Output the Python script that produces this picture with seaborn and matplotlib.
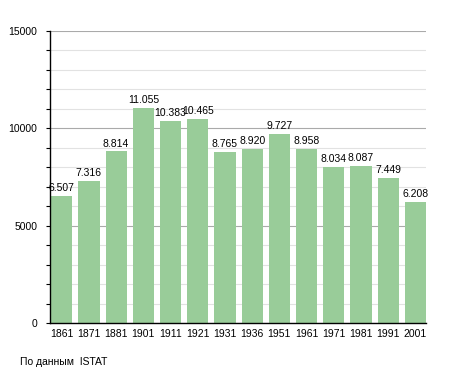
import matplotlib
matplotlib.use("Agg")
import matplotlib.pyplot as plt
import seaborn as sns
import pandas as pd
from matplotlib.ticker import MultipleLocator

years = ["1861", "1871", "1881", "1901", "1911", "1921", "1931", "1936",
         "1951", "1961", "1971", "1981", "1991", "2001"]
population = [6507, 7316, 8814, 11055, 10383, 10465, 8765, 8920,
              9727, 8958, 8034, 8087, 7449, 6208]
value_labels = ["6.507", "7.316", "8.814", "11.055", "10.383", "10.465", "8.765",
                "8.920", "9.727", "8.958", "8.034", "8.087", "7.449", "6.208"]
y_ticks = [0, 5000, 10000, 15000]
source_text = "По данным  ISTAT"

df = pd.DataFrame({"year": years, "pop": population})

sns.set_style("white")
plt.rcParams["font.family"] = ["Liberation Sans", "DejaVu Sans"]
plt.rcParams["text.color"] = "black"
plt.rcParams["xtick.color"] = "black"
plt.rcParams["ytick.color"] = "black"

fig = plt.figure(figsize=(4.55, 3.73), dpi=100)
ax = fig.add_axes([50 / 455, 1 - 323 / 373, 376 / 455, 292 / 373])
ax.set_axisbelow(True)

sns.barplot(data=df, x="year", y="pop", color="#99cc99", saturation=1,
            width=0.78, ax=ax, zorder=3, linewidth=0)

ax.set_ylim(0, 15000)
ax.set_xlim(-0.43, 13.39)
ax.yaxis.set_major_locator(MultipleLocator(5000))
ax.yaxis.set_minor_locator(MultipleLocator(1000))
ax.set_yticks(y_ticks)
ax.set_yticklabels([str(v) for v in y_ticks], fontsize=7.5)
ax.tick_params(axis="y", which="both", direction="out", length=3, width=0.8,
               color="black", left=True, pad=6, labelcolor="black")
ax.tick_params(axis="x", length=0, pad=4, labelsize=7.5, labelcolor="black")
ax.grid(axis="y", which="major", color="#aaaaaa", linewidth=0.8)
ax.grid(axis="y", which="minor", color="#e2e2e2", linewidth=0.8)
ax.set_xlabel("")
ax.set_ylabel("")

for s in ["top", "right"]:
    ax.spines[s].set_visible(False)
for s in ["left", "bottom"]:
    ax.spines[s].set_color("black")
    ax.spines[s].set_linewidth(1.0)
    ax.spines[s].set_zorder(5)

for i, (v, lab) in enumerate(zip(population, value_labels)):
    ax.text(i, v + 150, lab, ha="center", va="bottom", fontsize=7.5,
            color="black", zorder=6)

fig.text(20 / 455, 1 - 362 / 373, source_text, fontsize=7.5, va="center",
         ha="left", color="black")

fig.savefig("out.png", dpi=100)
